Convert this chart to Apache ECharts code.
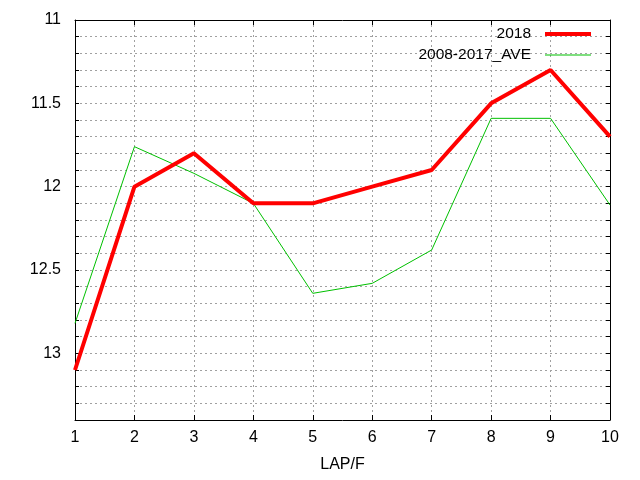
<!DOCTYPE html>
<html>
<head>
<meta charset="utf-8">
<script src="https://cdn.jsdelivr.net/npm/echarts@6/dist/echarts.min.js"></script>
<style>
  html, body { margin: 0; padding: 0; background: #fff; }
  #chart { width: 640px; height: 480px; }
</style>
</head>
<body>
<div id="chart"></div>
<script>
// laps
var laps = [1, 2, 3, 4, 5, 6, 7, 8, 9, 10];

// 2018 values
var values2018 = [13.1, 12.0, 11.8, 12.1, 12.1, 12.0, 11.9, 11.5, 11.3, 11.7];

// 2008-2017 average
var valuesAve = [12.82, 11.76, 11.92, 12.1, 12.64, 12.58, 12.38, 11.59, 11.59, 12.11];

var seriesNames = ['2018', '2008-2017_AVE'];

function toPoints(vals) {
    return laps.map(function (lap, i) { return [lap, vals[i]]; });
}

var font = 'Liberation Sans, Arial, sans-serif';
var gridLine = { show: true, lineStyle: { color: '#a0a0a0', type: [2, 3], width: 1 } };

// legend line samples (box 46x14, line in the middle)
var iconThick = 'path://M0,0M46,14M0,5L46,5L46,9L0,9Z';
var iconThin = 'path://M0,0M46,14M0,6.5L46,6.5L46,7.5L0,7.5Z';

var option = {
    animation: false,
    backgroundColor: '#ffffff',
    grid: { left: 75, right: 30, top: 20, bottom: 60, containLabel: false },
    legend: {
        orient: 'vertical',
        right: 44,
        top: 21,
        align: 'right',
        itemWidth: 46,
        itemHeight: 14,
        itemGap: 5,
        itemStyle: { borderWidth: 0 },
        textStyle: { fontFamily: font, fontSize: 15.5, color: '#000', padding: [0, 9, 0, 0] },
        data: [
            { name: seriesNames[0], icon: iconThick },
            { name: seriesNames[1], icon: iconThin }
        ]
    },
    xAxis: [{
        type: 'value',
        min: 1,
        max: 10,
        interval: 1,
        name: 'LAP/F',
        nameLocation: 'middle',
        nameGap: 37,
        nameTextStyle: { fontFamily: font, fontSize: 16, color: '#000' },
        axisLine: { lineStyle: { color: '#000', width: 1 } },
        axisTick: { inside: true, length: 5, lineStyle: { color: '#000' } },
        axisLabel: { fontFamily: font, fontSize: 16, color: '#000', margin: 10 },
        splitLine: gridLine
    }, {
        type: 'value',
        position: 'top',
        min: 1,
        max: 10,
        interval: 1,
        axisLine: { show: true, lineStyle: { color: '#000', width: 1 } },
        axisTick: { inside: true, length: 5, lineStyle: { color: '#000' } },
        axisLabel: { show: false },
        splitLine: { show: false }
    }],
    yAxis: [{
        type: 'value',
        inverse: true,
        min: 11,
        max: 13.4,
        interval: 0.1,
        axisLine: { show: true, lineStyle: { color: '#000', width: 1 } },
        axisTick: { inside: true, length: 4, lineStyle: { color: '#000' } },
        axisLabel: {
            fontFamily: font, fontSize: 16, color: '#000', margin: 14,
            formatter: function (v) {
                var r = Math.round(v * 2);
                if (Math.abs(v * 2 - r) < 1e-6) return String(r / 2);
                return '';
            }
        },
        splitLine: gridLine
    }, {
        type: 'value',
        position: 'right',
        inverse: true,
        min: 11,
        max: 13.4,
        interval: 0.1,
        axisLine: { show: true, lineStyle: { color: '#000', width: 1 } },
        axisTick: { inside: true, length: 4, lineStyle: { color: '#000' } },
        axisLabel: { show: false },
        splitLine: { show: false }
    }],
    series: [{
        name: seriesNames[0],
        type: 'line',
        data: toPoints(values2018),
        symbol: 'none',
        color: '#ff0000',
        lineStyle: { color: '#ff0000', width: 4 },
        z: 3
    }, {
        name: seriesNames[1],
        type: 'line',
        data: toPoints(valuesAve),
        symbol: 'none',
        color: '#00c000',
        lineStyle: { color: '#00c000', width: 1 },
        z: 2
    }]
};

var myChart = echarts.init(document.getElementById('chart'));
myChart.setOption(option);
</script>
</body>
</html>
